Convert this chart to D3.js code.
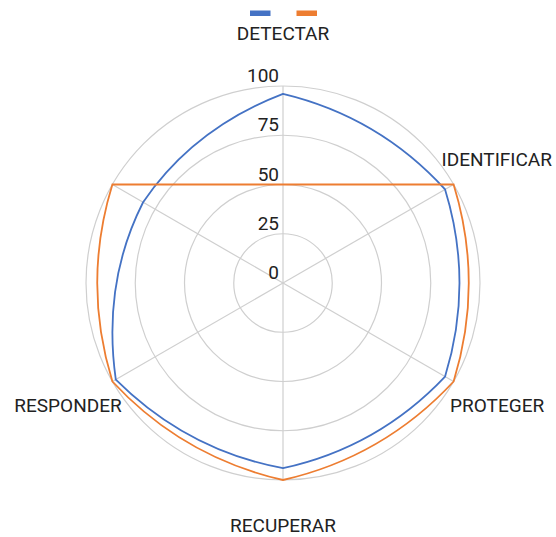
<!DOCTYPE html>
<html><head><meta charset="utf-8">
<script src="https://cdn.jsdelivr.net/npm/d3@7"></script>
<style>html,body{margin:0;padding:0;background:#fff;}svg{display:block;font-family:Roboto,"Noto Sans",sans-serif;}</style>
</head><body>
<svg id="chart" width="556" height="537"></svg>
<script>
const categories = ["DETECTAR", "IDENTIFICAR", "PROTEGER", "RECUPERAR", "RESPONDER", ""];
const seriesBlue = [96, 95, 95, 94, 98, 82];
const seriesOrange = [null, 100, 100, 100, 100, 100];
const tickValues = [0, 25, 50, 75, 100];
const seriesNames = ["", ""];
const colors = ["#4472c4", "#ed7d31"];

const W = 556, H = 537, cx = 283, cy = 283, R = 197;
const FS = 19;
const svg = d3.select("#chart");
const n = categories.length;
const angle = d3.scaleLinear().domain([0, n]).range([0, 2 * Math.PI]);
const radius = d3.scaleLinear().domain([0, 100]).range([0, R]);
const px = (a, r) => cx + r * Math.sin(a);
const py = (a, r) => cy - r * Math.cos(a);

// grid circles
svg.append("g").selectAll("circle").data(tickValues.filter(d => d > 0)).join("circle")
  .attr("cx", cx).attr("cy", cy).attr("r", d => radius(d))
  .attr("fill", "none").attr("stroke", "#cfcfcf").attr("stroke-width", 1.2);
// spokes
svg.append("g").selectAll("line").data(categories).join("line")
  .attr("x1", cx).attr("y1", cy)
  .attr("x2", (d, i) => px(angle(i), R)).attr("y2", (d, i) => py(angle(i), R))
  .attr("stroke", "#cfcfcf").attr("stroke-width", 1.2);

// series
function seriesPath(vals) {
  const p = d3.path();
  const idx = vals.map((v, i) => v == null ? -1 : i).filter(i => i >= 0);
  const k = 1.02;
  const a0 = angle(idx[0]), r0 = radius(vals[idx[0]]);
  p.moveTo(px(a0, r0), py(a0, r0));
  for (let m = 0; m < idx.length; m++) {
    const i = idx[m], j = idx[(m + 1) % idx.length];
    const a1 = angle(i);
    let a2 = angle(j); if (j <= i) a2 += 2 * Math.PI;
    const r1 = radius(vals[i]), r2 = radius(vals[j]);
    const gap = ((j - i) + n) % n;
    if (gap === 1) {
      const am = (a1 + a2) / 2, rm = k * (r1 + r2) / 2;
      p.quadraticCurveTo(px(am, rm), py(am, rm), px(a2, r2), py(a2, r2));
    } else {
      p.lineTo(px(a2, r2), py(a2, r2));
    }
  }
  p.closePath();
  return p.toString();
}
const allSeries = [seriesBlue, seriesOrange];
svg.append("g").selectAll("path").data(allSeries).join("path")
  .attr("d", d => seriesPath(d))
  .attr("fill", "none").attr("stroke", (d, i) => colors[i]).attr("stroke-width", 1.8)
  .attr("stroke-linejoin", "miter");

// tick labels
svg.append("g").selectAll("text").data(tickValues).join("text")
  .attr("x", cx - 4).attr("y", d => cy - radius(d) - 4)
  .attr("text-anchor", "end").attr("font-size", FS).attr("fill", "#222")
  .text(d => d);

// category labels
const labelPos = (d, i) => {
  const a = angle(i);
  const vx = px(a, R), vy = py(a, R);
  const s = Math.sin(a), c = Math.cos(a);
  if (Math.abs(s) < 1e-6) {
    return c > 0 ? {x: vx, y: vy - 46, anchor: "middle"} : {x: vx, y: vy + 51.5, anchor: "middle"};
  }
  if (s > 0) return c > 0 ? {x: vx - 12, y: vy - 18.5, anchor: "start"} : {x: vx - 3.5, y: vy + 30, anchor: "start"};
  return c > 0 ? {x: vx + 9, y: vy - 18.5, anchor: "end"} : {x: vx + 9.3, y: vy + 30, anchor: "end"};
};
svg.append("g").selectAll("text").data(categories).join("text")
  .each(function(d, i) {
    const p = labelPos(d, i);
    d3.select(this).attr("x", p.x).attr("y", p.y).attr("text-anchor", p.anchor);
  })
  .attr("font-size", FS).attr("fill", "#222")
  .text(d => d);

// legend
const legend = svg.append("g");
legend.selectAll("rect").data(seriesNames).join("rect")
  .attr("x", (d, i) => 250 + i * 46.5).attr("y", 10.5).attr("width", 20.5).attr("height", 5.5)
  .attr("fill", (d, i) => colors[i]);
</script>
</body></html>
